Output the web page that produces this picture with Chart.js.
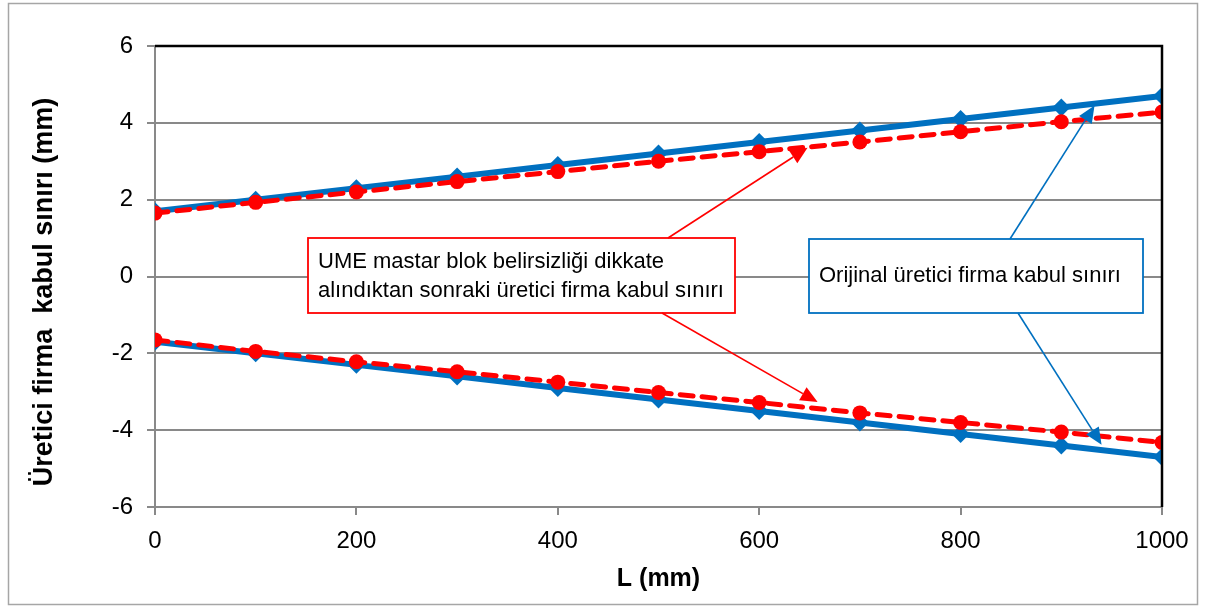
<!DOCTYPE html>
<html><head><meta charset="utf-8">
<script src="https://cdn.jsdelivr.net/npm/chart.js@4/dist/chart.umd.min.js"></script>
<style>html,body{margin:0;padding:0;background:#fff}#wrap{width:1206px;height:611px;position:relative}</style>
</head><body><div id="wrap"><canvas id="c" width="1206" height="611"></canvas></div>
<script>
const lengths = [0,100,200,300,400,500,600,700,800,900,1000];
const blueUpper = [1.7,2.0,2.3,2.6,2.9,3.2,3.5,3.8,4.1,4.4,4.7];
const blueLower = [-1.7,-2.0,-2.3,-2.6,-2.9,-3.2,-3.5,-3.8,-4.1,-4.4,-4.7];
const redUpper = [1.65,1.93,2.2,2.47,2.73,3.0,3.25,3.5,3.77,4.03,4.28];
const redLower = [-1.65,-1.95,-2.22,-2.48,-2.75,-3.02,-3.28,-3.55,-3.8,-4.05,-4.32];
const xTicks = [0,200,400,600,800,1000];
const yTicks = [-6,-4,-2,0,2,4,6];
const redLabel = ["UME mastar blok belirsizliği dikkate","alındıktan sonraki üretici firma kabul sınırı"];
const blueLabel = ["Orijinal üretici firma kabul sınırı"];
const yTitle = "Üretici firma  kabul sınırı (mm)";
const xTitle = "L (mm)";

const FONT = "'Liberation Sans', Arial, sans-serif";
const BLUE = '#0070C0', RED = '#FF0000';
const pts = a => a.map((v,i)=>({x:lengths[i], y:v}));

function arrow(ctx, x1,y1,x2,y2,color){
  ctx.save();
  ctx.strokeStyle=color; ctx.fillStyle=color; ctx.lineWidth=1.6;
  const ang=Math.atan2(y2-y1,x2-x1), L=17, W=7.5;
  const bx=x2-L*Math.cos(ang), by=y2-L*Math.sin(ang);
  ctx.beginPath(); ctx.moveTo(x1,y1); ctx.lineTo(bx,by); ctx.stroke();
  ctx.beginPath(); ctx.moveTo(x2,y2);
  ctx.lineTo(bx+W*Math.sin(ang), by-W*Math.cos(ang));
  ctx.lineTo(bx-W*Math.sin(ang), by+W*Math.cos(ang));
  ctx.closePath(); ctx.fill();
  ctx.restore();
}
function box(ctx, l,t,r,b,color,lines,lineY){
  ctx.save();
  ctx.fillStyle='#fff'; ctx.fillRect(l,t,r-l,b-t);
  ctx.strokeStyle=color; ctx.lineWidth=1.8; ctx.strokeRect(l,t,r-l,b-t);
  ctx.fillStyle='#000'; ctx.font='22px '+FONT; ctx.textBaseline='middle'; ctx.textAlign='left';
  lines.forEach((s,i)=>ctx.fillText(s,l+10,lineY[i]));
  ctx.restore();
}

const deco = {
  id:'deco',
  beforeDraw(chart){
    const ctx=chart.ctx; ctx.save(); ctx.fillStyle='#fff'; ctx.fillRect(0,0,chart.width,chart.height);
    ctx.strokeStyle='#A6A6A6'; ctx.lineWidth=1.5; ctx.strokeRect(8.5,3.5,1189,601);
    ctx.translate(45,292); ctx.rotate(-Math.PI/2);
    ctx.fillStyle='#000'; ctx.font='bold 27px '+FONT; ctx.textAlign='center'; ctx.textBaseline='middle';
    ctx.fillText(yTitle,0,0);
    ctx.restore();
  },
  afterDatasetsDraw(chart){
    const ctx=chart.ctx, a=chart.chartArea, xs=chart.scales.x, ys=chart.scales.y;
    ctx.save(); ctx.strokeStyle='#000'; ctx.lineWidth=2.5;
    ctx.beginPath(); ctx.moveTo(a.left,a.top); ctx.lineTo(a.right,a.top); ctx.lineTo(a.right,a.bottom); ctx.stroke();
    ctx.restore();
    box(ctx,308,238,735,313,RED,redLabel,[262,291]);
    arrow(ctx,668,238,xs.getPixelForValue(648),ys.getPixelForValue(3.35),RED);
    arrow(ctx,662,313,xs.getPixelForValue(658),ys.getPixelForValue(-3.27),RED);
    box(ctx,809,239,1143,313,BLUE,blueLabel,[276]);
    arrow(ctx,1010,239,xs.getPixelForValue(933),ys.getPixelForValue(4.45),BLUE);
    arrow(ctx,1018,313,xs.getPixelForValue(940),ys.getPixelForValue(-4.38),BLUE);
  }
};

new Chart(document.getElementById('c'),{
  type:'line',
  data:{datasets:[
    {data:pts(redUpper),borderColor:RED,backgroundColor:RED,borderWidth:5,borderDash:[13,9],borderCapStyle:'round',pointStyle:'circle',pointRadius:7.5,pointBorderWidth:0,order:0},
    {data:pts(redLower),borderColor:RED,backgroundColor:RED,borderWidth:5,borderDash:[13,9],borderCapStyle:'round',pointStyle:'circle',pointRadius:7.5,pointBorderWidth:0,order:0},
    {data:pts(blueUpper),borderColor:BLUE,backgroundColor:BLUE,borderWidth:6,pointStyle:'rectRot',pointRadius:9,pointBorderWidth:0,order:1},
    {data:pts(blueLower),borderColor:BLUE,backgroundColor:BLUE,borderWidth:6,pointStyle:'rectRot',pointRadius:9,pointBorderWidth:0,order:1}
  ]},
  options:{
    responsive:false, animation:false, devicePixelRatio:1,
    layout:{padding:{left:10,right:44,top:46,bottom:10}},
    plugins:{legend:{display:false},tooltip:{enabled:false}},
    elements:{line:{tension:0}},
    scales:{
      x:{type:'linear',min:0,max:1000,
        afterBuildTicks:s=>{s.ticks=xTicks.map(v=>({value:v}));},
        afterFit:s=>{s.height=94;},
        ticks:{color:'#000',font:{family:FONT,size:24},padding:12,maxRotation:0,callback:v=>String(v)},
        grid:{drawOnChartArea:false,drawTicks:true,tickLength:8,color:'#898989',lineWidth:2},
        border:{display:true,color:'#898989',width:2},
        title:{display:true,text:xTitle,color:'#000',font:{family:FONT,size:25,weight:'bold'},padding:{top:4,bottom:7}}
      },
      y:{type:'linear',min:-6,max:6,
        afterBuildTicks:s=>{s.ticks=yTicks.map(v=>({value:v}));},
        afterFit:s=>{s.width=145;},
        ticks:{color:'#000',font:{family:FONT,size:24},padding:14,callback:v=>String(v)},
        grid:{drawTicks:true,tickLength:8,color:'#898989',lineWidth:2},
        border:{display:true,color:'#898989',width:2},
        title:{display:false}
      }
    }
  },
  plugins:[deco]
});
</script></body></html>
